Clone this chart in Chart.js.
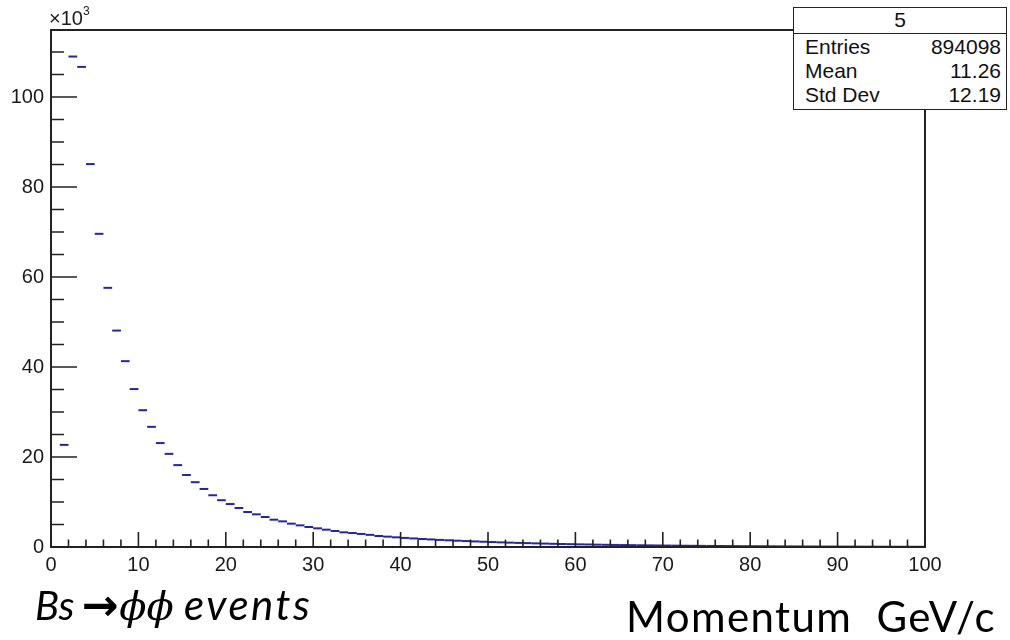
<!DOCTYPE html>
<html>
<head>
<meta charset="utf-8">
<script src="https://cdn.jsdelivr.net/npm/chart.js@4.4.0/dist/chart.umd.min.js"></script>
<style>
    body { margin: 0; background: #ffffff; }
    #wrap { position: relative; width: 1010px; height: 640px; overflow: hidden; }
    #histo { position: absolute; left: 0; top: 0; }
    .axisExp { position: absolute; left: 49px; top: 6px; font: 20px "Liberation Sans", Arial, sans-serif; color: #1a1a1a; }
    .axisExp sup { font-size: 12px; position: relative; top: -2px; }
    #stats { position: absolute; left: 793px; top: 7px; width: 214px; height: 103px; border: 1.5px solid #222; background: #fff;
             font: 21px "Liberation Sans", Arial, sans-serif; color: #111; box-sizing: border-box; }
    #stats .title { height: 24.5px; line-height: 24.5px; text-align: center; border-bottom: 1.5px solid #222; }
    #stats .row { display: flex; justify-content: space-between; padding: 0 5px 0 11px; height: 24px; line-height: 26.5px; }
    .caption { position: absolute; font-family: Lato, "Open Sans", sans-serif; color: #000; white-space: pre; }
    #decay { left: 35px; top: 579px; font-size: 40px; font-style: italic; }
    #decay .arrow { font-style: normal; font-weight: bold; font-family: "DejaVu Sans", sans-serif; font-size: 44px; margin: 0 1px 0 7px; }
    #decay .phi { font-family: "DejaVu Serif", serif; font-style: italic; }
    #decay .word { font-size: 42px; letter-spacing: 2.5px; margin-left: -2px; }
    #momentum { left: 626px; top: 591px; font-size: 42px; letter-spacing: 1.4px; }
</style>
</head>
<body>
<div id="wrap">
    <canvas id="histo" width="1010" height="640"></canvas>
    <div class="axisExp">&times;10<sup>3</sup></div>
    <div id="stats"></div>
    <div class="caption" id="decay">Bs<span class="arrow">&rarr;</span><span class="phi">&#981;&#981;</span><span class="word"> events</span></div>
    <div class="caption" id="momentum">Momentum  GeV/c</div>
</div>
<script>
// Histogram "5": Bs -> phi phi momentum spectrum, 1 GeV/c bins from 0 to 100

const binCenters = Array.from({ length: 100 }, (_, i) => i + 0.5);

// bin contents (first bin empty)
const counts = [
    null, 22700, 109000, 106700, 85100, 69600, 57600, 48100, 41300, 35100,
    30400, 26700, 23100, 20700, 18200, 16000, 14400, 12900, 11500, 10400,
    9550, 8670, 7780, 7260, 6670, 6070, 5700, 5190, 4810, 4440,
    4150, 3850, 3560, 3260, 3100, 2900, 2700, 2450, 2300, 2150,
    2020, 1900, 1780, 1680, 1580, 1490, 1400, 1320, 1240, 1170,
    1100, 1030, 970, 910, 860, 810, 760, 710, 670, 630,
    590, 560, 520, 490, 460, 430, 410, 380, 360, 340,
    320, 300, 280, 265, 250, 235, 220, 205, 195, 180,
    170, 160, 150, 140, 130, 125, 115, 110, 100, 95,
    90, 85, 80, 75, 70, 66, 62, 58, 55, 52
];

const xTicks = [0, 10, 20, 30, 40, 50, 60, 70, 80, 90, 100];
const yTicks = [0, 20000, 40000, 60000, 80000, 100000];

const statsTitle = '5';
const statsLabels = ['Entries', 'Mean', 'Std Dev'];
const statsValues = ['894098', '11.26', '12.19'];

// Stats box
const statsBox = document.getElementById('stats');
statsBox.innerHTML = `<div class="title">${statsTitle}</div>` +
    statsLabels.map((l, i) => `<div class="row"><span>${l}</span><span>${statsValues[i]}</span></div>`).join('');

// ROOT style frame with inward ticks
const rootFrame = {
    id: 'rootFrame',
    afterDraw(chart) {
        const { ctx, chartArea: a, scales } = chart;
        const xs = scales.x, ys = scales.y;
        ctx.save();
        ctx.strokeStyle = '#222';
        ctx.lineWidth = 2;
        ctx.strokeRect(a.left, a.top, a.right - a.left, a.bottom - a.top);

        ctx.lineWidth = 1.6;
        ctx.beginPath();
        // x ticks: major every 10, minor every 2
        for (let v = 0; v <= 100; v += 2) {
            const px = xs.getPixelForValue(v);
            const len = v % 10 === 0 ? 15 : 7.5;
            ctx.moveTo(px, a.bottom);
            ctx.lineTo(px, a.bottom - len);
        }
        // y ticks: major every 20k, minor every 5k
        for (let v = 0; v <= ys.max; v += 5000) {
            const py = ys.getPixelForValue(v);
            const len = v % 20000 === 0 ? 26 : 13;
            ctx.moveTo(a.left, py);
            ctx.lineTo(a.left + len, py);
        }
        ctx.stroke();
        ctx.restore();
    }
};

new Chart(document.getElementById('histo'), {
    type: 'scatter',
    data: {
        datasets: [{
            label: 'counts',
            data: binCenters.map((x, i) => ({ x: x, y: counts[i] })),
            showLine: false,
            pointStyle: 'line',
            pointRadius: 4.37,
            pointHoverRadius: 4.37,
            borderColor: '#2424a8',
            backgroundColor: '#2424a8',
            borderWidth: 2
        }]
    },
    options: {
        responsive: false,
        animation: false,
        events: [],
        layout: {
            padding: { left: 0, top: 30, right: 85, bottom: 0 }
        },
        plugins: {
            legend: { display: false },
            tooltip: { enabled: false }
        },
        scales: {
            x: {
                type: 'linear',
                min: 0,
                max: 100,
                afterFit: s => { s.height = 93; },
                afterBuildTicks: s => { s.ticks = xTicks.map(v => ({ value: v })); },
                grid: { display: false, drawTicks: false },
                border: { display: false },
                ticks: {
                    padding: 6,
                    maxRotation: 0,
                    autoSkip: false,
                    color: '#1a1a1a',
                    font: { family: '"Liberation Sans", Arial, sans-serif', size: 20 }
                }
            },
            y: {
                type: 'linear',
                min: 0,
                max: 114900,
                afterFit: s => { s.width = 51; },
                afterBuildTicks: s => { s.ticks = yTicks.map(v => ({ value: v })); },
                grid: { display: false, drawTicks: false },
                border: { display: false },
                ticks: {
                    padding: 7,
                    autoSkip: false,
                    color: '#1a1a1a',
                    font: { family: '"Liberation Sans", Arial, sans-serif', size: 20 },
                    callback: value => String(value / 1000)
                }
            }
        }
    },
    plugins: [rootFrame]
});
</script>
</body>
</html>
